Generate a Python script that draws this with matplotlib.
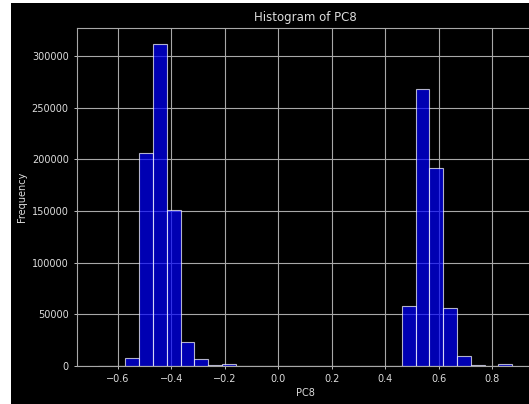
import matplotlib
matplotlib.use('Agg')
import matplotlib.pyplot as plt
from matplotlib.patches import Rectangle
import numpy as np

# PC8 histogram: 30 equal-width bins between the data min and max
pc_min, pc_max = -0.675, 0.875
counts = [40, 300, 7500, 205800, 311600, 151000, 22900, 6500, 800, 1500,
          400, 0, 0, 0, 0, 0, 0, 0, 0, 0,
          0, 0, 58400, 267700, 191300, 55800, 10000, 1000, 150, 1600]
yticks = [0, 50000, 100000, 150000, 200000, 250000, 300000]
xticks = [-0.6, -0.4, -0.2, 0.0, 0.2, 0.4, 0.6, 0.8]

plt.style.use('dark_background')
plt.rcParams['font.family'] = 'DejaVu Sans'
txt = '#dcdcdc'

fig = plt.figure(figsize=(5.29, 4.04), dpi=100, facecolor='white')
# dark canvas with a thin light strip on the left/top
fig.add_artist(Rectangle((11 / 529, 0), 1, 1 - 3 / 404,
                         transform=fig.transFigure, facecolor='black',
                         edgecolor='none', zorder=-10))

ax = fig.add_axes([77 / 529, 38 / 404, 456 / 529, 338 / 404])
ax.set_facecolor('black')

edges = np.linspace(pc_min, pc_max, len(counts) + 1)
ax.hist(edges[:-1], bins=edges, weights=counts, color='blue',
        edgecolor='white', alpha=0.7, linewidth=0.8)

ax.set_xticks(xticks)
ax.set_yticks(yticks)
ax.grid(True, color='#a8a8a8', linewidth=0.8)
ax.set_axisbelow(True)
for s in ax.spines.values():
    s.set_color('#a8a8a8')
    s.set_linewidth(0.8)
ax.tick_params(colors=txt, labelsize=7, length=2.5, width=0.6)

ax.set_title("Histogram of PC8", color=txt, fontsize=8.5, pad=5)
ax.set_xlabel("PC8", color=txt, fontsize=7, labelpad=3)
ax.set_ylabel("Frequency", color=txt, fontsize=7, labelpad=3)

fig.savefig("out.png", dpi=100, facecolor=fig.get_facecolor())
